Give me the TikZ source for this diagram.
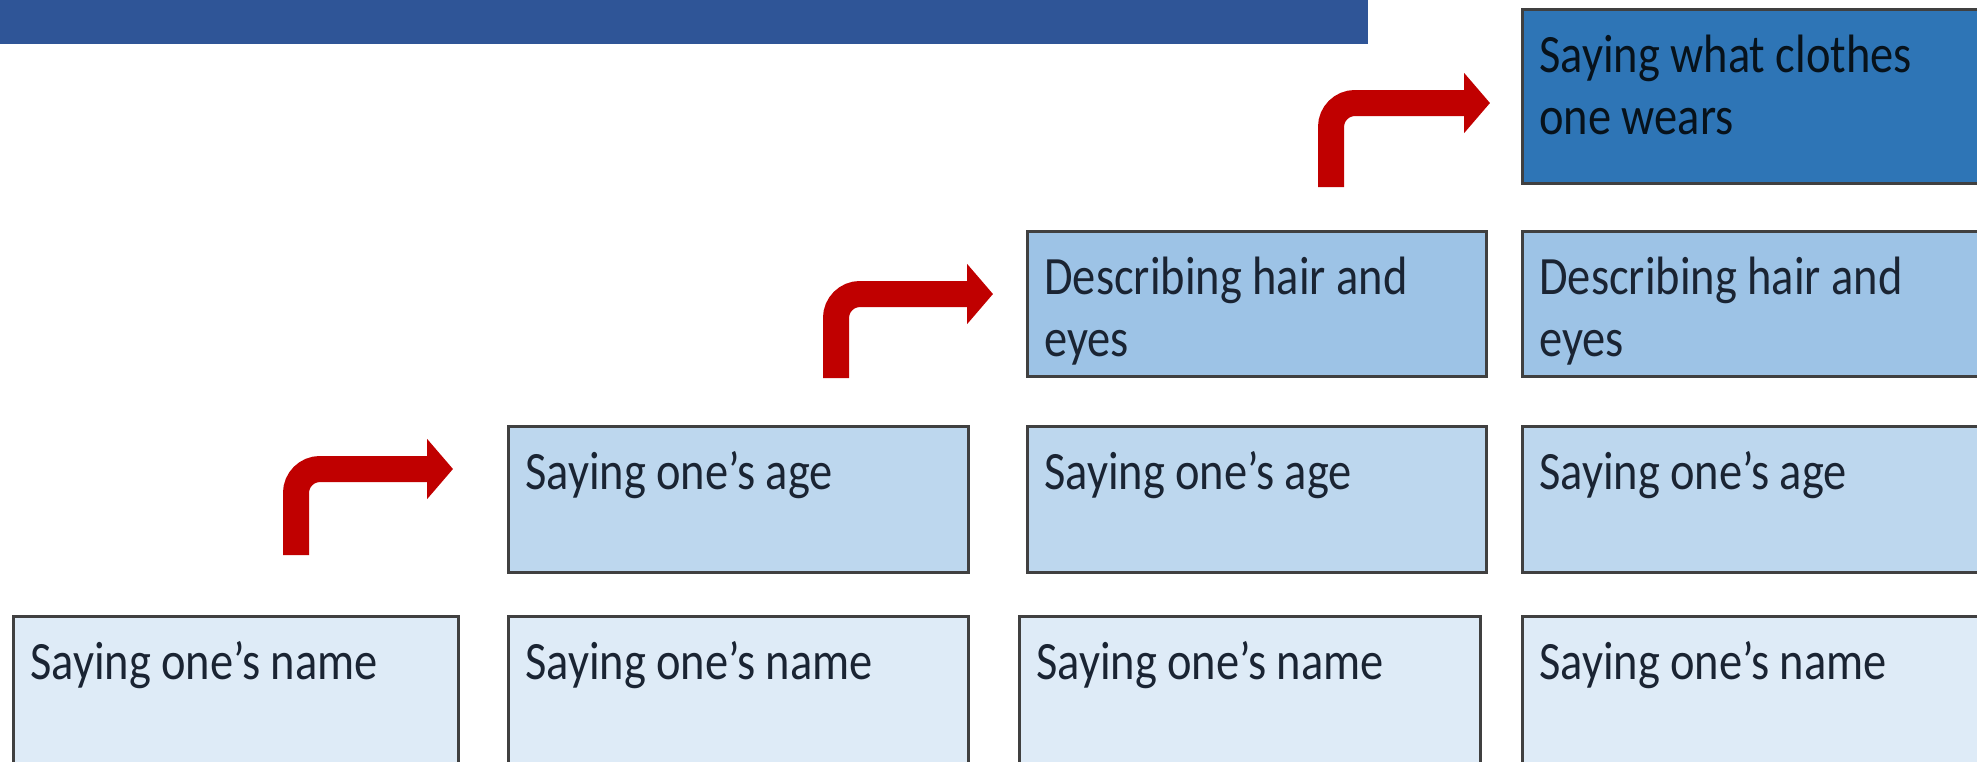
\documentclass[tikz,border=0pt]{standalone}
\usepackage{fontspec}
\setmainfont[FakeStretch=0.86]{Carlito}
\usetikzlibrary{arrows.meta,calc}
\definecolor{bannerblue}{HTML}{2F5597}
\definecolor{topblue}{HTML}{2E75B6}
\definecolor{hairblue}{HTML}{9DC3E6}
\definecolor{ageblue}{HTML}{BDD7EE}
\definecolor{nameblue}{HTML}{DEEBF7}
\definecolor{edgegray}{HTML}{404040}
\definecolor{inkblue}{HTML}{1A2433}
\definecolor{arrowred}{HTML}{C00000}
\tikzset{
  stepbox/.style n args={3}{draw=edgegray, line width=1.5pt, fill=#1, inner sep=0pt, outer sep=0pt,
    minimum width=#2*0.5pt, minimum height=#3*0.5pt, anchor=north west},
  txt/.style={text=inkblue, inner sep=0pt, anchor=base west,
    font=\fontsize{27pt}{31pt}\selectfont},
  bendarrow/.style={draw=arrowred, line width=13pt, rounded corners=12pt,
    -{Triangle[length=13pt,width=29.5pt]}}
}
\begin{document}
\begin{tikzpicture}[x=0.5pt,y=-0.5pt]
\useasboundingbox (0,0) rectangle (1977,761);
% banner
\fill[bannerblue] (0,0) rectangle (1368,44);

% top box
\node[stepbox={topblue}{470}{174}] (clothes) at (1522,9) {};
\node[txt, text=black!85!topblue] (clothesA) at ($(clothes.north west)+(17,63)$) {Saying what clothes};
\node[txt, text=black!85!topblue] (clothesB) at ($(clothes.north west)+(17,125)$) {one wears};

% hair row
\node[stepbox={hairblue}{459}{145}] (hair3) at (1027,231) {};
\node[txt] (hair3A) at ($(hair3.north west)+(17,63)$) {Describing hair and};
\node[txt] (hair3B) at ($(hair3.north west)+(17,125)$) {eyes};
\node[stepbox={hairblue}{470}{145}] (hair4) at (1522,231) {};
\node[txt] (hair4A) at ($(hair4.north west)+(17,63)$) {Describing hair and};
\node[txt] (hair4B) at ($(hair4.north west)+(17,125)$) {eyes};

% age row
\node[stepbox={ageblue}{460}{146}] (age2) at (508,426) {};
\node[txt] (age2t) at ($(age2.north west)+(17,63)$) {Saying one’s age};
\node[stepbox={ageblue}{459}{146}] (age3) at (1027,426) {};
\node[txt] (age3t) at ($(age3.north west)+(17,63)$) {Saying one’s age};
\node[stepbox={ageblue}{470}{146}] (age4) at (1522,426) {};
\node[txt] (age4t) at ($(age4.north west)+(17,63)$) {Saying one’s age};

% name row
\node[stepbox={nameblue}{445}{170}] (name1) at (13,616) {};
\node[txt] (name1t) at ($(name1.north west)+(17,63)$) {Saying one’s name};
\node[stepbox={nameblue}{460}{170}] (name2) at (508,616) {};
\node[txt] (name2t) at ($(name2.north west)+(17,63)$) {Saying one’s name};
\node[stepbox={nameblue}{461}{170}] (name3) at (1019,616) {};
\node[txt] (name3t) at ($(name3.north west)+(17,63)$) {Saying one’s name};
\node[stepbox={nameblue}{470}{170}] (name4) at (1522,616) {};
\node[txt] (name4t) at ($(name4.north west)+(17,63)$) {Saying one’s name};

% bent arrows
\coordinate (a1s) at (296,555);
\coordinate (a1e) at (453,469);
\coordinate (a2s) at (836,378);
\coordinate (a2e) at (993,294);
\coordinate (a3s) at (1331,187);
\coordinate (a3e) at (1490,103);
\draw[bendarrow] (a1s) |- (a1e);
\draw[bendarrow] (a2s) |- (a2e);
\draw[bendarrow] (a3s) |- (a3e);
\end{tikzpicture}
\end{document}
